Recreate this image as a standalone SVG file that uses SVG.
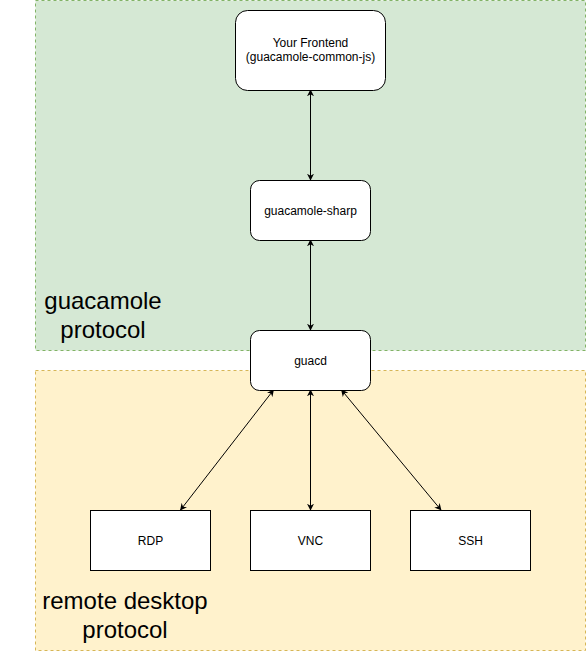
<svg xmlns="http://www.w3.org/2000/svg" width="586" height="659" viewBox="0 0 586 659">
<style>
.region{stroke-dasharray:3 3;stroke-width:1}
.node{fill:#ffffff;stroke:#000000;stroke-width:1}
.lbl{font-family:"Liberation Sans",Arial,sans-serif;font-size:12px;fill:#000;text-anchor:middle}
.big{font-family:"Liberation Sans",Arial,sans-serif;font-size:24px;fill:#000;text-anchor:middle}
.edge{stroke:#000;stroke-width:1;fill:none;marker-start:url(#arr);marker-end:url(#arr)}
</style>
<defs>
<marker id="arr" viewBox="0 0 10 10" refX="9" refY="5" markerWidth="7" markerHeight="7" orient="auto-start-reverse" markerUnits="userSpaceOnUse">
<path d="M0,0 L10,5 L0,10 L3,5 Z" fill="#000"/>
</marker>
</defs>
<rect width="586" height="659" fill="#ffffff"/>
<g id="region-guacamole">
<rect class="region" x="35.5" y="0.5" width="550" height="350" fill="#d5e8d4" stroke="#82b366"/>
<text class="big" x="103" y="309">guacamole</text>
<text class="big" x="103" y="338">protocol</text>
</g>
<g id="region-remote">
<rect class="region" x="35.5" y="370.5" width="550" height="280" fill="#fff2cc" stroke="#d6b656"/>
<text class="big" x="125" y="609">remote desktop</text>
<text class="big" x="125" y="638">protocol</text>
</g>
<g id="connectors">
<line class="edge" x1="310.5" y1="90" x2="310.5" y2="180"/>
<line class="edge" x1="310.5" y1="240" x2="310.5" y2="330"/>
<line class="edge" x1="310.5" y1="390" x2="310.5" y2="510"/>
<line class="edge" x1="273.5" y1="390" x2="180.5" y2="510"/>
<line class="edge" x1="341.5" y1="390" x2="441" y2="510"/>
</g>
<g id="frontend">
<rect class="node" x="235.5" y="10.5" width="150" height="80" rx="12" ry="12"/>
<text class="lbl" x="310.5" y="47">Your Frontend</text>
<text class="lbl" x="310.5" y="61">(guacamole-common-js)</text>
</g>
<g id="sharp">
<rect class="node" x="250.5" y="180.5" width="120" height="60" rx="9" ry="9"/>
<text class="lbl" x="310.5" y="214.5">guacamole-sharp</text>
</g>
<g id="guacd">
<rect class="node" x="250.5" y="330.5" width="120" height="60" rx="9" ry="9"/>
<text class="lbl" x="310.5" y="364.5">guacd</text>
</g>
<g id="rdp">
<rect class="node" x="90.5" y="510.5" width="120" height="60"/>
<text class="lbl" x="150.5" y="544.5">RDP</text>
</g>
<g id="vnc">
<rect class="node" x="250.5" y="510.5" width="120" height="60"/>
<text class="lbl" x="310.5" y="544.5">VNC</text>
</g>
<g id="ssh">
<rect class="node" x="410.5" y="510.5" width="120" height="60"/>
<text class="lbl" x="470.5" y="544.5">SSH</text>
</g>
</svg>
